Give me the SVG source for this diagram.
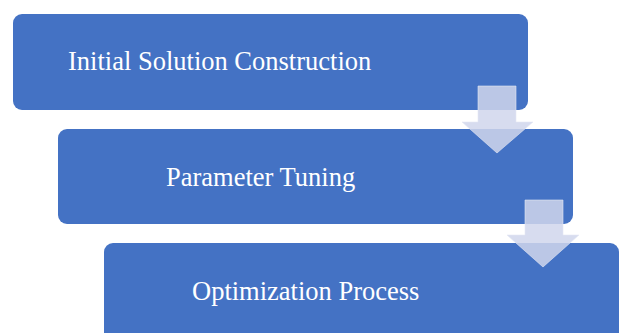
<svg xmlns="http://www.w3.org/2000/svg" width="620" height="333" viewBox="0 0 620 333">
<style>
.box{fill:#4472c4;}
.lbl{font-family:"Liberation Serif","Times New Roman",serif;font-size:26.5px;fill:#ffffff;}
.arr{fill:#d0d6ec;fill-opacity:0.85;stroke:#e4e8f4;stroke-opacity:0.6;stroke-width:1;}
</style>
<rect width="620" height="333" fill="#ffffff"/>
<g id="node1"><rect class="box" x="13" y="14" width="515" height="96" rx="9"/><text class="lbl" x="68" y="70">Initial Solution Construction</text></g>
<g id="node2"><rect class="box" x="58" y="129" width="515" height="95" rx="9"/><text class="lbl" x="166" y="186">Parameter Tuning</text></g>
<g id="node3"><rect class="box" x="104" y="243" width="515" height="100" rx="9"/><text class="lbl" x="192" y="300">Optimization Process</text></g>
<g id="connectors">
<path class="arr" d="M478 86 H516 V122 H533 L497 153 L462 122 H478 Z"/>
<path class="arr" d="M525 200 H563 V235 H579 L543 267 L507 235 H525 Z"/>
</g>
</svg>
